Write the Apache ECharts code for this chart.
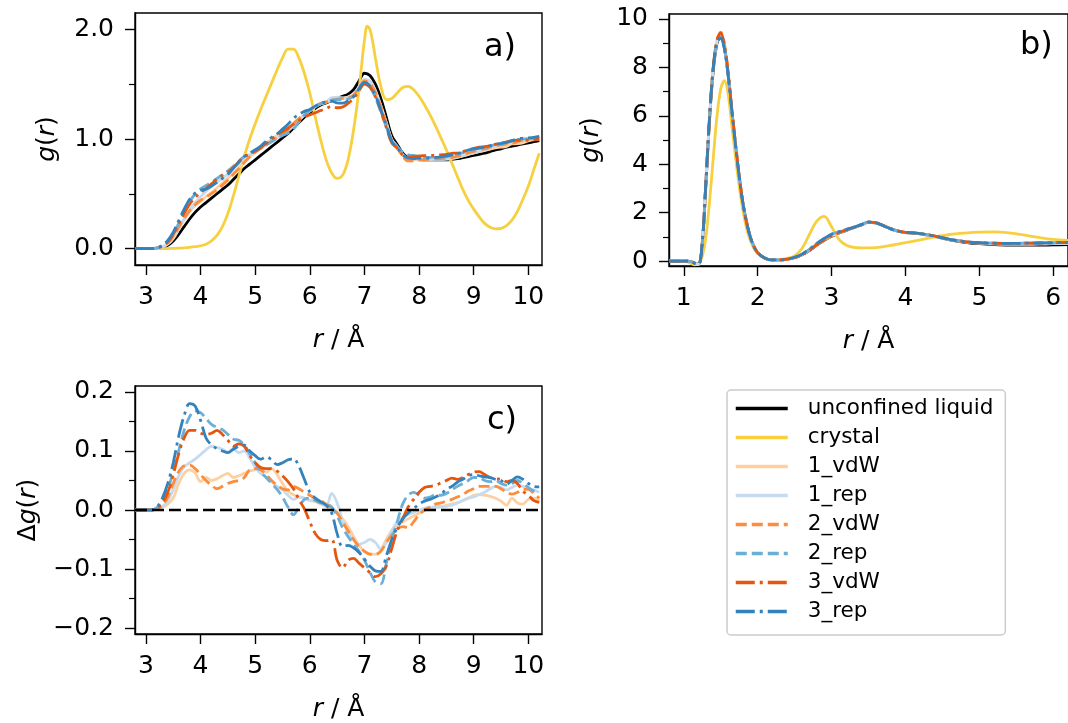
<!DOCTYPE html>
<html>
<head>
<meta charset="utf-8">
<script src="https://cdn.jsdelivr.net/npm/echarts@6/dist/echarts.min.js"></script>
<style>
  html, body { margin: 0; padding: 0; background: #ffffff; }
  #chart { width: 1068px; height: 723px; }
</style>
</head>
<body>
<div id="chart"></div>
<script>
// ---- radial grid and g(r) for the long-range panel (a) ----
const rA = [2.8,2.9,3.0,3.1,3.2,3.3,3.4,3.5,3.6,3.7,3.8,3.9,4.0,4.1,4.2,4.3,4.4,4.5,4.6,4.7,4.8,4.9,5.0,5.1,5.2,5.3,5.4,5.5,5.6,5.7,5.8,5.9,6.0,6.1,6.2,6.3,6.4,6.5,6.6,6.7,6.8,6.9,7.0,7.1,7.2,7.3,7.4,7.5,7.6,7.7,7.8,7.9,8.0,8.1,8.2,8.3,8.4,8.5,8.6,8.7,8.8,8.9,9.0,9.1,9.2,9.3,9.4,9.5,9.6,9.7,9.8,9.9,10.0,10.1,10.2];

const liquidA = [0,0,0,0,0.002,0.01,0.03,0.07,0.13,0.2,
  0.27,0.33,0.38,0.42,0.46,0.5,0.54,0.58,0.63,0.68,
  0.73,0.77,0.81,0.85,0.89,0.93,0.97,1.01,1.05,1.1,
  1.15,1.2,1.24,1.28,1.31,1.33,1.35,1.37,1.39,1.41,
  1.45,1.53,1.6,1.58,1.5,1.37,1.2,1.03,0.95,0.87,
  0.83,0.82,0.815,0.81,0.81,0.81,0.81,0.81,0.815,0.82,
  0.83,0.84,0.85,0.86,0.87,0.885,0.9,0.91,0.925,0.935,
  0.945,0.955,0.965,0.975,0.985];

const crystalR = [2.8,2.9,3.0,3.1,3.2,3.3,3.4,3.5,3.6,3.7,3.8,3.9,4.0,4.1,4.2,4.3,4.4,4.5,4.6,4.7,4.8,4.9,5.0,5.1,5.2,5.3,5.4,5.5,5.6,5.7,5.8,5.9,6.0,6.1,6.2,6.3,6.4,6.5,6.6,6.7,6.8,6.9,6.95,7.0,7.05,7.1,7.15,7.2,7.3,7.4,7.5,7.6,7.7,7.8,7.9,8.0,8.1,8.2,8.3,8.4,8.5,8.6,8.7,8.8,8.9,9.0,9.1,9.2,9.3,9.4,9.5,9.6,9.7,9.8,9.9,10.0,10.1,10.2];
const crystalA = [0,0,0,0,0,0,0,0.002,0.004,0.007,
  0.011,0.017,0.025,0.04,0.07,0.12,0.2,0.32,0.48,0.66,
  0.84,1.0,1.14,1.27,1.39,1.51,1.63,1.74,1.82,1.82,
  1.74,1.6,1.42,1.2,0.99,0.81,0.69,0.64,0.67,0.81,
  1.08,1.45,1.68,1.9,2.03,2.0,1.89,1.74,1.48,1.36,
  1.37,1.42,1.47,1.48,1.45,1.39,1.31,1.22,1.12,1.01,
  0.9,0.78,0.66,0.54,0.44,0.36,0.29,0.23,0.195,0.18,
  0.185,0.21,0.26,0.34,0.45,0.57,0.72,0.87];

const vdW1A = [0,0,0,0,0.004,0.015,0.04,0.09,0.175,0.262,
  0.338,0.393,0.428,0.475,0.51,0.553,0.598,0.642,0.685,0.738,
  0.792,0.836,0.878,0.92,0.954,1.0,1.03,1.055,1.082,1.126,
  1.172,1.22,1.256,1.294,1.32,1.336,1.35,1.364,1.375,1.382,
  1.405,1.47,1.53,1.506,1.425,1.302,1.15,0.995,0.925,0.85,
  0.815,0.81,0.81,0.81,0.813,0.816,0.816,0.818,0.825,0.832,
  0.846,0.86,0.875,0.886,0.895,0.908,0.92,0.925,0.933,0.955,
  0.957,0.965,0.983,0.995,1.0];
const rep1A = [0,0,0,0,0.004,0.016,0.045,0.105,0.188,0.273,
  0.35,0.416,0.474,0.522,0.568,0.606,0.643,0.678,0.734,0.777,
  0.83,0.858,0.882,0.912,0.945,0.978,1.01,1.044,1.075,1.118,
  1.172,1.22,1.256,1.3,1.322,1.336,1.378,1.382,1.372,1.372,
  1.4,1.472,1.545,1.53,1.445,1.304,1.145,0.995,0.93,0.858,
  0.822,0.816,0.815,0.813,0.815,0.814,0.815,0.816,0.823,0.832,
  0.846,0.86,0.872,0.886,0.9,0.921,0.94,0.948,0.959,0.973,
  0.987,0.995,1.002,1.009,1.015];
const vdW2A = [0,0,0,0,0.004,0.018,0.052,0.115,0.195,0.275,
  0.346,0.4,0.44,0.47,0.502,0.536,0.58,0.625,0.678,0.73,
  0.785,0.838,0.88,0.918,0.95,0.98,1.012,1.046,1.084,1.14,
  1.186,1.23,1.265,1.3,1.326,1.34,1.354,1.365,1.37,1.375,
  1.4,1.468,1.53,1.505,1.425,1.3,1.145,0.988,0.918,0.842,
  0.8,0.8,0.807,0.81,0.815,0.82,0.822,0.825,0.833,0.842,
  0.856,0.872,0.886,0.9,0.91,0.925,0.94,0.946,0.955,0.962,
  0.975,0.99,1.0,1.003,1.005];
const rep2A = [0,0,0,0,0.006,0.025,0.065,0.135,0.23,0.335,
  0.428,0.498,0.545,0.575,0.605,0.64,0.676,0.708,0.75,0.798,
  0.84,0.865,0.89,0.915,0.945,0.975,1.005,1.032,1.055,1.092,
  1.155,1.218,1.26,1.296,1.322,1.34,1.355,1.36,1.36,1.365,
  1.392,1.46,1.515,1.475,1.378,1.245,1.11,0.98,0.93,0.88,
  0.855,0.85,0.84,0.83,0.832,0.836,0.835,0.838,0.849,0.86,
  0.875,0.89,0.905,0.915,0.92,0.933,0.95,0.955,0.967,0.98,
  0.995,1.0,1.003,1.007,1.013];
const vdW3A = [0,0,0,0,0.005,0.022,0.06,0.13,0.225,0.322,
  0.405,0.465,0.51,0.548,0.59,0.635,0.668,0.698,0.738,0.792,
  0.838,0.862,0.89,0.922,0.96,1.0,1.036,1.068,1.098,1.136,
  1.168,1.202,1.22,1.24,1.26,1.278,1.3,1.285,1.292,1.325,
  1.368,1.44,1.502,1.474,1.387,1.262,1.105,0.965,0.915,0.855,
  0.835,0.838,0.845,0.848,0.85,0.852,0.856,0.86,0.869,0.872,
  0.885,0.9,0.914,0.925,0.93,0.94,0.953,0.962,0.973,0.985,
  0.99,0.987,0.99,0.991,0.998];
const rep3A = [0,0,0,0,0.007,0.03,0.075,0.15,0.255,0.36,
  0.45,0.506,0.532,0.542,0.57,0.604,0.64,0.677,0.733,0.788,
  0.84,0.87,0.902,0.936,0.98,1.015,1.047,1.09,1.135,1.187,
  1.224,1.252,1.27,1.3,1.324,1.338,1.345,1.33,1.328,1.35,
  1.386,1.458,1.517,1.485,1.397,1.266,1.122,0.98,0.92,0.855,
  0.825,0.822,0.825,0.825,0.828,0.832,0.837,0.845,0.855,0.867,
  0.882,0.898,0.91,0.918,0.926,0.94,0.952,0.96,0.969,0.985,
  1.001,1.007,1.01,1.015,1.024];

// ---- short-range panel (b) ----
const rB = [0.8,0.9,1.0,1.05,1.1,1.15,1.2,1.25,1.3,1.35,1.4,1.45,1.5,1.55,1.6,1.65,1.7,1.75,1.8,1.85,1.9,1.95,2.0,2.1,2.2,2.3,2.4,2.5,2.6,2.7,2.8,2.9,3.0,3.1,3.2,3.3,3.4,3.5,3.6,3.7,3.8,3.9,4.0,4.2,4.4,4.6,4.8,5.0,5.2,5.4,5.6,5.8,6.0,6.2];
const liquidB = [0,0,0,0,-0.02,-0.08,-0.12,0.7,
  3.2,5.9,7.9,9.0,9.3,8.8,7.7,6.2,
  4.8,3.5,2.4,1.6,1.0,0.6,0.35,
  0.12,0.05,0.05,0.08,0.14,0.26,0.44,0.66,0.86,1.03,
  1.16,1.27,1.38,1.49,1.6,1.58,1.46,1.33,1.24,1.18,
  1.13,1.02,0.88,0.78,0.72,0.68,0.66,0.66,0.66,0.67,0.68];
const crystalB = [0,0,0,-0.03,-0.1,-0.15,-0.1,0.2,
  1.0,2.5,4.3,6.0,7.1,7.45,6.9,5.6,
  4.3,3.1,2.1,1.35,0.85,0.52,0.32,
  0.12,0.06,0.06,0.12,0.22,0.52,1.1,1.65,1.85,1.42,
  0.9,0.66,0.57,0.55,0.55,0.56,0.6,0.65,0.7,0.76,
  0.88,1.0,1.1,1.16,1.2,1.21,1.17,1.08,0.98,0.9,0.86];
const vdW1B = [0,0,0,0,-0.02,-0.09,-0.13,0.74,
  3.28,6.0,8.02,9.12,9.4,8.92,7.78,6.28,
  4.85,3.52,2.4,1.6,1.0,0.6,0.35,
  0.12,0.05,0.05,0.08,0.15,0.27,0.45,0.67,0.87,1.04,
  1.17,1.28,1.39,1.5,1.6,1.58,1.46,1.33,1.24,1.18,
  1.13,1.02,0.89,0.8,0.74,0.71,0.7,0.7,0.71,0.72,0.73];
const rep1B = [0,0,0,0,-0.02,-0.09,-0.13,0.75,
  3.3,6.0,8.0,9.05,9.3,8.82,7.72,6.22,
  4.82,3.5,2.4,1.6,1.0,0.6,0.35,
  0.12,0.05,0.05,0.08,0.15,0.28,0.47,0.7,0.9,1.07,
  1.19,1.29,1.39,1.5,1.61,1.58,1.46,1.33,1.24,1.18,
  1.13,1.02,0.89,0.8,0.74,0.71,0.7,0.7,0.71,0.72,0.73];
const vdW2B = [0,0,0,0,-0.02,-0.09,-0.13,0.75,
  3.3,6.02,8.05,9.15,9.45,8.95,7.8,6.3,
  4.85,3.52,2.4,1.6,1.0,0.6,0.35,
  0.12,0.05,0.05,0.08,0.15,0.27,0.45,0.68,0.88,1.05,
  1.18,1.29,1.4,1.5,1.61,1.59,1.47,1.34,1.25,1.19,
  1.14,1.03,0.9,0.81,0.76,0.74,0.73,0.74,0.75,0.76,0.77];
const rep2B = [0,0,0,0,-0.02,-0.09,-0.13,0.76,
  3.32,6.02,8.0,9.05,9.25,8.8,7.7,6.2,
  4.8,3.5,2.4,1.6,1.0,0.6,0.35,
  0.12,0.05,0.05,0.08,0.16,0.29,0.49,0.73,0.94,1.11,
  1.22,1.31,1.4,1.51,1.62,1.58,1.46,1.33,1.24,1.19,
  1.14,1.03,0.9,0.81,0.76,0.74,0.73,0.74,0.75,0.76,0.77];
const vdW3B = [0,0,0,0,-0.02,-0.09,-0.13,0.75,
  3.3,6.0,8.04,9.13,9.42,8.93,7.79,6.28,
  4.84,3.51,2.4,1.6,1.0,0.6,0.35,
  0.12,0.05,0.05,0.08,0.15,0.27,0.45,0.68,0.88,1.05,
  1.18,1.29,1.4,1.5,1.61,1.59,1.47,1.34,1.25,1.19,
  1.14,1.03,0.9,0.81,0.76,0.74,0.73,0.74,0.75,0.76,0.77];
const rep3B = [0,0,0,0,-0.02,-0.09,-0.14,0.76,
  3.32,6.02,8.0,9.02,9.2,8.76,7.68,6.2,
  4.8,3.5,2.4,1.6,1.0,0.6,0.35,
  0.12,0.05,0.05,0.08,0.16,0.29,0.49,0.73,0.94,1.11,
  1.22,1.31,1.4,1.51,1.62,1.58,1.46,1.33,1.24,1.19,
  1.14,1.03,0.9,0.81,0.76,0.74,0.73,0.74,0.75,0.76,0.77];

// ---- difference to the unconfined liquid, panel (c), on the rA grid ----
const dVdW1 = [0,0,0,0,0.002,0.005,0.01,0.02,0.045,0.062,
  0.068,0.063,0.048,0.055,0.05,0.053,0.058,0.062,0.055,0.058,
  0.062,0.066,0.068,0.07,0.064,0.07,0.06,0.045,0.032,0.026,
  0.022,0.02,0.016,0.014,0.01,0.006,0,-0.006,-0.015,-0.028,
  -0.045,-0.06,-0.07,-0.074,-0.075,-0.068,-0.05,-0.035,-0.025,-0.02,
  -0.015,-0.01,-0.005,0,0.003,0.006,0.006,0.008,0.01,0.012,
  0.016,0.02,0.025,0.026,0.025,0.023,0.02,0.015,0.008,0.02,
  0.012,0.01,0.018,0.02,0.015];
const dRep1 = [0,0,0,0,0.002,0.006,0.015,0.035,0.058,0.073,
  0.08,0.086,0.094,0.102,0.108,0.106,0.103,0.098,0.104,0.097,
  0.1,0.088,0.072,0.062,0.055,0.048,0.04,0.034,0.025,0.018,
  0.022,0.02,0.016,0.02,0.012,0.006,0.028,0.012,-0.018,-0.038,
  -0.05,-0.058,-0.055,-0.05,-0.055,-0.066,-0.055,-0.035,-0.02,-0.012,
  -0.008,-0.004,0,0.003,0.005,0.004,0.005,0.006,0.008,0.012,
  0.016,0.02,0.022,0.026,0.03,0.036,0.04,0.038,0.034,0.038,
  0.042,0.04,0.037,0.034,0.03];
const dVdW2 = [0,0,0,0,0.002,0.008,0.022,0.045,0.065,0.075,
  0.076,0.07,0.06,0.05,0.042,0.036,0.04,0.045,0.048,0.05,
  0.055,0.068,0.07,0.068,0.06,0.05,0.042,0.036,0.034,0.04,
  0.036,0.03,0.025,0.02,0.016,0.01,0.004,-0.005,-0.02,-0.035,
  -0.05,-0.062,-0.07,-0.075,-0.075,-0.07,-0.055,-0.042,-0.032,-0.028,
  -0.03,-0.02,-0.008,0,0.005,0.01,0.012,0.015,0.018,0.022,
  0.026,0.032,0.036,0.04,0.04,0.04,0.04,0.036,0.03,0.027,
  0.03,0.035,0.035,0.028,0.02];
const dRep2 = [0,0,0,0,0.004,0.015,0.035,0.065,0.1,0.135,
  0.158,0.168,0.165,0.155,0.145,0.14,0.136,0.128,0.12,0.118,
  0.11,0.095,0.08,0.065,0.055,0.045,0.035,0.022,0.005,-0.008,
  0.005,0.018,0.02,0.016,0.012,0.01,0.005,-0.01,-0.03,-0.045,
  -0.058,-0.07,-0.085,-0.105,-0.122,-0.125,-0.09,-0.05,-0.02,0.01,
  0.025,0.03,0.025,0.02,0.022,0.026,0.025,0.028,0.034,0.04,
  0.045,0.05,0.055,0.055,0.05,0.048,0.05,0.045,0.042,0.045,
  0.05,0.045,0.038,0.032,0.028];
const dVdW3 = [0,0,0,0,0.003,0.012,0.03,0.06,0.095,0.122,
  0.135,0.135,0.13,0.128,0.13,0.135,0.128,0.118,0.108,0.112,
  0.108,0.092,0.08,0.072,0.07,0.07,0.066,0.058,0.048,0.036,
  0.018,0.002,-0.02,-0.04,-0.05,-0.052,-0.05,-0.085,-0.098,-0.085,
  -0.082,-0.09,-0.098,-0.106,-0.113,-0.108,-0.095,-0.065,-0.035,-0.015,
  0.005,0.018,0.03,0.038,0.04,0.042,0.046,0.05,0.054,0.052,
  0.055,0.06,0.064,0.065,0.06,0.055,0.053,0.052,0.048,0.05,
  0.045,0.032,0.025,0.016,0.013];
const dRep3 = [0,0,0,0,0.005,0.02,0.045,0.08,0.125,0.16,
  0.18,0.176,0.152,0.122,0.11,0.104,0.1,0.097,0.103,0.108,
  0.11,0.1,0.092,0.086,0.09,0.085,0.077,0.08,0.085,0.087,
  0.074,0.052,0.03,0.02,0.014,0.008,-0.005,-0.04,-0.062,-0.06,
  -0.064,-0.072,-0.083,-0.095,-0.103,-0.104,-0.078,-0.05,-0.03,-0.015,
  -0.005,0.002,0.01,0.015,0.018,0.022,0.027,0.035,0.04,0.047,
  0.052,0.058,0.06,0.058,0.056,0.055,0.052,0.05,0.044,0.05,
  0.056,0.052,0.045,0.04,0.039];

// ---- tick positions ----
const ticksXA = [3,4,5,6,7,8,9,10];
const ticksYA = [0,1,2];
const minorYA = [0.5,1.5];
const ticksXB = [1,2,3,4,5,6];
const ticksYB = [0,2,4,6,8,10];
const minorYB = [1,3,5,7,9];
const ticksYC = [-0.2,-0.1,0,0.1,0.2];
const minorYC = [-0.15,-0.05,0.05,0.15];

const seriesNames = ['unconfined liquid','crystal','1_vdW','1_rep','2_vdW','2_rep','3_vdW','3_rep'];

// line appearance per system
const DASH = [11, 5];
const DASHDOT = [19, 5, 3, 5];
const look = {
  'unconfined liquid': { color: '#000000', type: 'solid' },
  'crystal':           { color: '#f6d03f', type: 'solid' },
  '1_vdW':             { color: '#fdd0a2', type: 'solid' },
  '1_rep':             { color: '#c6dbef', type: 'solid' },
  '2_vdW':             { color: '#fd8d3c', type: DASH },
  '2_rep':             { color: '#6baed6', type: DASH },
  '3_vdW':             { color: '#e6550d', type: DASHDOT },
  '3_rep':             { color: '#3182bd', type: DASHDOT }
};

const panelA = {
  'unconfined liquid': [rA, liquidA], 'crystal': [crystalR, crystalA],
  '1_vdW': [rA, vdW1A], '1_rep': [rA, rep1A], '2_vdW': [rA, vdW2A],
  '2_rep': [rA, rep2A], '3_vdW': [rA, vdW3A], '3_rep': [rA, rep3A]
};
const panelB = {
  'unconfined liquid': [rB, liquidB], 'crystal': [rB, crystalB],
  '1_vdW': [rB, vdW1B], '1_rep': [rB, rep1B], '2_vdW': [rB, vdW2B],
  '2_rep': [rB, rep2B], '3_vdW': [rB, vdW3B], '3_rep': [rB, rep3B]
};
const panelC = {
  '1_vdW': [rA, dVdW1], '1_rep': [rA, dRep1], '2_vdW': [rA, dVdW2],
  '2_rep': [rA, dRep2], '3_vdW': [rA, dVdW3], '3_rep': [rA, dRep3]
};

const FONT = 'DejaVu Sans';
const TICK_FONT = 25;
const black = '#000000';

function lineSeries(name, xIdx, yIdx, pair) {
  const xs = pair[0], ys = pair[1];
  return {
    type: 'line', name: name, xAxisIndex: xIdx, yAxisIndex: yIdx,
    data: xs.map((x, i) => [x, ys[i]]),
    symbol: 'none', showSymbol: false, smooth: 0.35,
    lineStyle: { color: look[name].color, width: 2.8, type: look[name].type, cap: 'butt' },
    itemStyle: { color: look[name].color },
    emphasis: { disabled: true },
    animation: false
  };
}

function xAxisDef(grid, min, max, ticks, name) {
  return {
    type: 'value', gridIndex: grid, min: min, max: max,
    axisLine: { show: true, onZero: false, lineStyle: { color: black, width: 1.4 } },
    axisTick: { show: true, length: 10, customValues: ticks, lineStyle: { color: black, width: 1.4 } },
    axisLabel: { customValues: ticks, fontSize: TICK_FONT, fontFamily: FONT, color: black, margin: 20 },
    splitLine: { show: false },
    name: name, nameLocation: 'middle', nameGap: 63,
    nameTextStyle: { fontSize: TICK_FONT, fontFamily: FONT, color: black,
      rich: { it: { fontStyle: 'italic', fontSize: TICK_FONT, fontFamily: FONT, color: black } } }
  };
}

function yAxisDef(grid, min, max, ticks, fmt, name, gap) {
  return {
    type: 'value', gridIndex: grid, min: min, max: max, position: 'left',
    axisLine: { show: true, onZero: false, lineStyle: { color: black, width: 1.4 } },
    axisTick: { show: true, length: 10, customValues: ticks, lineStyle: { color: black, width: 1.4 } },
    axisLabel: { customValues: ticks, fontSize: TICK_FONT, fontFamily: FONT, color: black, margin: 21, formatter: fmt },
    splitLine: { show: false },
    name: name, nameLocation: 'middle', nameRotate: 90, nameGap: gap,
    nameTextStyle: { fontSize: TICK_FONT, fontFamily: FONT, color: black,
      rich: { it: { fontStyle: 'italic', fontSize: TICK_FONT, fontFamily: FONT, color: black } } }
  };
}

function minorAxisDef(grid, min, max, ticks) {
  return {
    type: 'value', gridIndex: grid, min: min, max: max, position: 'left', offset: 0,
    axisLine: { show: false },
    axisTick: { show: true, length: 6, customValues: ticks, lineStyle: { color: black, width: 1.2 } },
    axisLabel: { show: false },
    splitLine: { show: false }
  };
}

const fmtOne = v => v.toFixed(1);
const fmtInt = v => String(Math.round(v));
const fmtSigned = v => (v < -1e-9 ? '\u2212' : '') + Math.abs(v).toFixed(1);

const series = [];
seriesNames.forEach(n => series.push(lineSeries(n, 0, 0, panelA[n])));
seriesNames.forEach(n => series.push(lineSeries(n, 1, 2, panelB[n])));
seriesNames.slice(2).forEach(n => series.push(lineSeries(n, 2, 4, panelC[n])));
// zero reference in the difference panel
series.push({
  type: 'line', name: 'zero', xAxisIndex: 2, yAxisIndex: 4, data: [],
  symbol: 'none', animation: false,
  markLine: {
    silent: true, symbol: ['none', 'none'], label: { show: false },
    lineStyle: { color: black, width: 2.4, type: [12, 5] },
    emphasis: { disabled: true },
    data: [{ yAxis: 0 }], animation: false
  }
});

const gridBox = { show: true, borderColor: black, borderWidth: 1.4, backgroundColor: 'transparent' };

const option = {
  animation: false,
  backgroundColor: '#ffffff',
  textStyle: { fontFamily: FONT },
  grid: [
    Object.assign({ left: 135, top: 13, width: 407, height: 252 }, gridBox),
    Object.assign({ left: 669, top: 14, width: 407, height: 252 }, gridBox),
    Object.assign({ left: 135, top: 386, width: 407, height: 252 }, gridBox)
  ],
  xAxis: [
    xAxisDef(0, 2.8, 10.25, ticksXA, '{it|r} / Å'),
    xAxisDef(1, 0.8, 6.2, ticksXB, '{it|r} / Å'),
    xAxisDef(2, 2.8, 10.25, ticksXA, '{it|r} / Å')
  ],
  yAxis: [
    yAxisDef(0, -0.15, 2.15, ticksYA, fmtOne, '{it|g}({it|r})', 75),
    minorAxisDef(0, -0.15, 2.15, minorYA),
    yAxisDef(1, -0.2, 10.2, ticksYB, fmtInt, '{it|g}({it|r})', 65),
    minorAxisDef(1, -0.2, 10.2, minorYB),
    yAxisDef(2, -0.21, 0.21, ticksYC, fmtSigned, 'Δ{it|g}({it|r})', 94),
    minorAxisDef(2, -0.21, 0.21, minorYC)
  ],
  legend: {
    data: seriesNames, orient: 'vertical', left: 727, top: 390,
    itemWidth: 52, itemHeight: 29, itemGap: 0,
    padding: [4, 12, 9, 7],
    backgroundColor: 'rgba(255,255,255,0.8)', borderColor: '#cccccc', borderWidth: 1.5, borderRadius: 4,
    selectedMode: false,
    itemStyle: { opacity: 0, borderWidth: 0 },
    lineStyle: { width: 3.5 },
    textStyle: { fontSize: 21.5, fontFamily: FONT, color: black, lineHeight: 29, padding: [0, 0, 0, 15] }
  },
  graphic: [
    { type: 'text', x: 484, y: 48, style: { text: 'a)', font: '32px "DejaVu Sans"', fill: black, align: 'left', verticalAlign: 'middle' } },
    { type: 'text', x: 1020, y: 46, style: { text: 'b)', font: '32px "DejaVu Sans"', fill: black, align: 'left', verticalAlign: 'middle' } },
    { type: 'text', x: 487, y: 421, style: { text: 'c)', font: '32px "DejaVu Sans"', fill: black, align: 'left', verticalAlign: 'middle' } }
  ],
  series: series
};

const chart = echarts.init(document.getElementById('chart'), null, { renderer: 'canvas' });
chart.setOption(option);
</script>
</body>
</html>
